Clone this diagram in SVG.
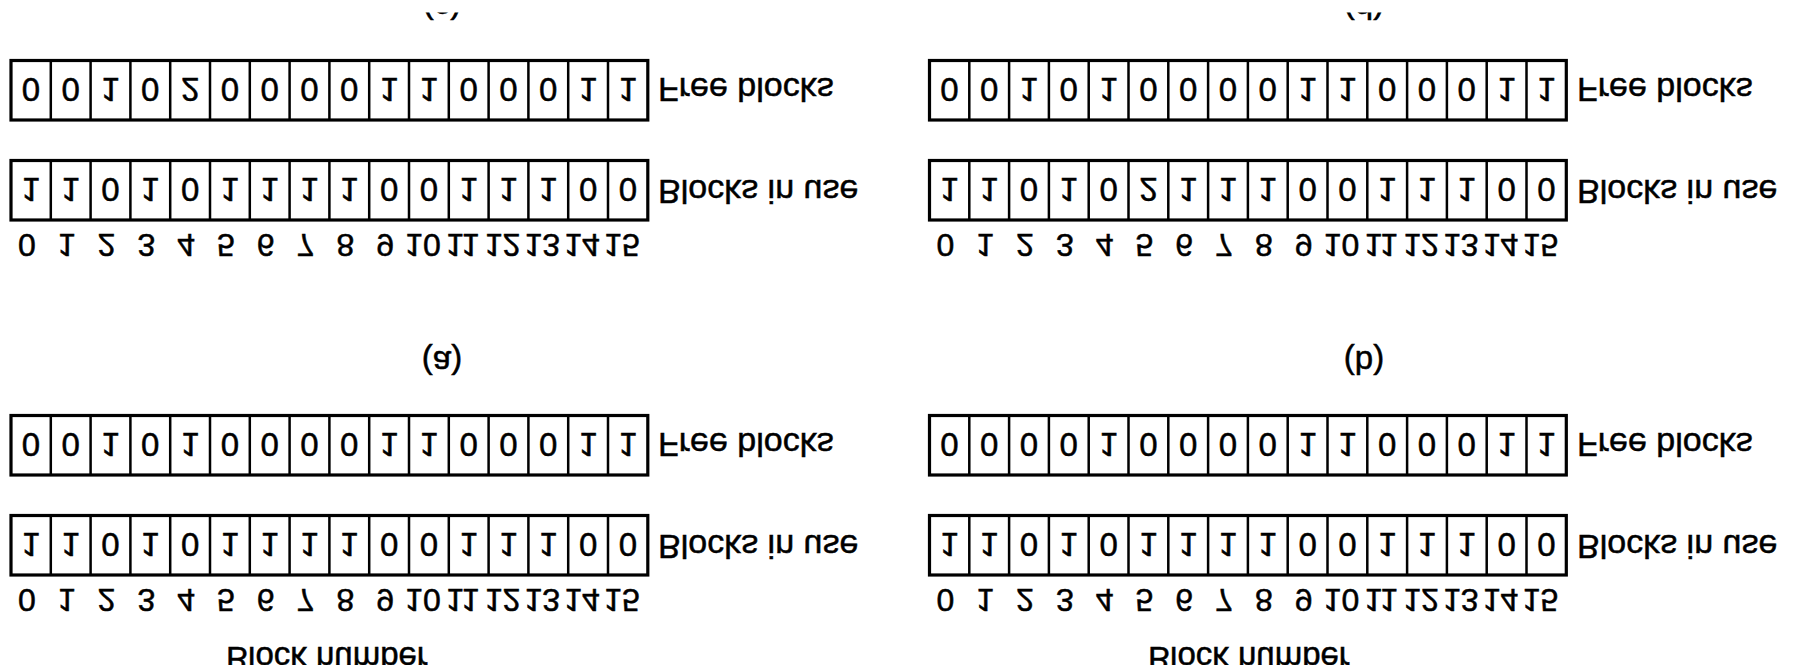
<svg xmlns="http://www.w3.org/2000/svg" width="1802" height="665" viewBox="0 0 1802 665">
<defs>
<style>
.box{fill:none;stroke:#000;stroke-width:3.2}
.div{fill:none;stroke:#000;stroke-width:2.5}
text{font-family:"Liberation Sans",Arial,sans-serif;fill:#000;stroke:#000;stroke-width:0.5}
.cell{font-size:33px;text-anchor:middle}
.num{font-size:32px;text-anchor:middle}
.lbl{font-size:34px}
.cap{font-size:33px;text-anchor:middle}
</style>
<g id="row">
<rect class="box" x="0" y="0" width="636.8" height="59.5"/>
<path class="div" d="M39.8 0V59.5M79.6 0V59.5M119.4 0V59.5M159.2 0V59.5M199 0V59.5M238.8 0V59.5M278.6 0V59.5M318.4 0V59.5M358.2 0V59.5M398 0V59.5M437.8 0V59.5M477.6 0V59.5M517.4 0V59.5M557.2 0V59.5M597 0V59.5"/>
</g>
<clipPath id="topclip"><rect x="0" y="12.5" width="1802" height="700"/></clipPath>
</defs>

<g id="panel-c">
<use href="#row" x="11" y="60.5"/>
<use href="#row" x="11" y="160.5"/>
<g transform="scale(1,-1)">
<text class="cell" x="30.9 70.7 110.5 150.3 190.1 229.9 269.7 309.5 349.3 389.1 428.9 468.7 508.5 548.3 588.1 627.9" y="-78">0010200001100011</text>
<text class="cell" x="30.9 70.7 110.5 150.3 190.1 229.9 269.7 309.5 349.3 389.1 428.9 468.7 508.5 548.3 588.1 627.9" y="-178">1101011110011100</text>
<text class="num" y="-233.5"><tspan x="26.9">0</tspan><tspan x="66.7">1</tspan><tspan x="106.5">2</tspan><tspan x="146.3">3</tspan><tspan x="186.1">4</tspan><tspan x="225.9">5</tspan><tspan x="265.7">6</tspan><tspan x="305.5">7</tspan><tspan x="345.3">8</tspan><tspan x="385.1">9</tspan><tspan x="422.9">10</tspan><tspan x="462.7">11</tspan><tspan x="502.5">12</tspan><tspan x="542.3">13</tspan><tspan x="582.1">14</tspan><tspan x="621.9">15</tspan></text>
<text class="lbl" x="658" y="-78">Free blocks</text>
<text class="lbl" x="658" y="-180">Blocks in use</text>
</g>
<g clip-path="url(#topclip)"><text class="cap" transform="scale(1,-1)" x="442" y="4">(c)</text></g>
</g>

<g id="panel-d">
<use href="#row" x="929.5" y="60.5"/>
<use href="#row" x="929.5" y="160.5"/>
<g transform="scale(1,-1)">
<text class="cell" x="949.4 989.2 1029 1068.8 1108.6 1148.4 1188.2 1228 1267.8 1307.6 1347.4 1387.2 1427 1466.8 1506.6 1546.4" y="-78">0010100001100011</text>
<text class="cell" x="949.4 989.2 1029 1068.8 1108.6 1148.4 1188.2 1228 1267.8 1307.6 1347.4 1387.2 1427 1466.8 1506.6 1546.4" y="-178">1101021110011100</text>
<text class="num" y="-233.5"><tspan x="945.4">0</tspan><tspan x="985.2">1</tspan><tspan x="1025">2</tspan><tspan x="1064.8">3</tspan><tspan x="1104.6">4</tspan><tspan x="1144.4">5</tspan><tspan x="1184.2">6</tspan><tspan x="1224">7</tspan><tspan x="1263.8">8</tspan><tspan x="1303.6">9</tspan><tspan x="1341.4">10</tspan><tspan x="1381.2">11</tspan><tspan x="1421">12</tspan><tspan x="1460.8">13</tspan><tspan x="1500.6">14</tspan><tspan x="1540.4">15</tspan></text>
<text class="lbl" x="1577" y="-78">Free blocks</text>
<text class="lbl" x="1577" y="-180">Blocks in use</text>
</g>
<g clip-path="url(#topclip)"><text class="cap" transform="scale(1,-1)" x="1364" y="4">(d)</text></g>
</g>

<g id="panel-a">
<use href="#row" x="11" y="415.5"/>
<use href="#row" x="11" y="515.5"/>
<g transform="scale(1,-1)">
<text class="cap" x="442" y="-351">(a)</text>
<text class="cell" x="30.9 70.7 110.5 150.3 190.1 229.9 269.7 309.5 349.3 389.1 428.9 468.7 508.5 548.3 588.1 627.9" y="-433">0010100001100011</text>
<text class="cell" x="30.9 70.7 110.5 150.3 190.1 229.9 269.7 309.5 349.3 389.1 428.9 468.7 508.5 548.3 588.1 627.9" y="-533">1101011110011100</text>
<text class="num" y="-588.5"><tspan x="26.9">0</tspan><tspan x="66.7">1</tspan><tspan x="106.5">2</tspan><tspan x="146.3">3</tspan><tspan x="186.1">4</tspan><tspan x="225.9">5</tspan><tspan x="265.7">6</tspan><tspan x="305.5">7</tspan><tspan x="345.3">8</tspan><tspan x="385.1">9</tspan><tspan x="422.9">10</tspan><tspan x="462.7">11</tspan><tspan x="502.5">12</tspan><tspan x="542.3">13</tspan><tspan x="582.1">14</tspan><tspan x="621.9">15</tspan></text>
<text class="lbl" x="658" y="-433">Free blocks</text>
<text class="lbl" x="658" y="-535">Blocks in use</text>
<text class="cap" x="327" y="-647">Block number</text>
</g>
</g>

<g id="panel-b">
<use href="#row" x="929.5" y="415.5"/>
<use href="#row" x="929.5" y="515.5"/>
<g transform="scale(1,-1)">
<text class="cap" x="1364" y="-351">(b)</text>
<text class="cell" x="949.4 989.2 1029 1068.8 1108.6 1148.4 1188.2 1228 1267.8 1307.6 1347.4 1387.2 1427 1466.8 1506.6 1546.4" y="-433">0000100001100011</text>
<text class="cell" x="949.4 989.2 1029 1068.8 1108.6 1148.4 1188.2 1228 1267.8 1307.6 1347.4 1387.2 1427 1466.8 1506.6 1546.4" y="-533">1101011110011100</text>
<text class="num" y="-588.5"><tspan x="945.4">0</tspan><tspan x="985.2">1</tspan><tspan x="1025">2</tspan><tspan x="1064.8">3</tspan><tspan x="1104.6">4</tspan><tspan x="1144.4">5</tspan><tspan x="1184.2">6</tspan><tspan x="1224">7</tspan><tspan x="1263.8">8</tspan><tspan x="1303.6">9</tspan><tspan x="1341.4">10</tspan><tspan x="1381.2">11</tspan><tspan x="1421">12</tspan><tspan x="1460.8">13</tspan><tspan x="1500.6">14</tspan><tspan x="1540.4">15</tspan></text>
<text class="lbl" x="1577" y="-433">Free blocks</text>
<text class="lbl" x="1577" y="-535">Blocks in use</text>
<text class="cap" x="1249" y="-647">Block number</text>
</g>
</g>
</svg>
